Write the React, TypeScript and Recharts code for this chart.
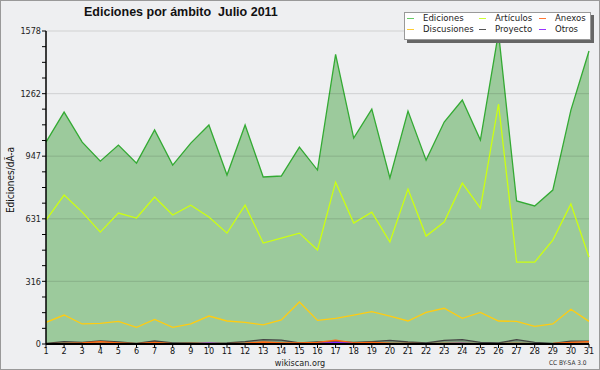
import React from "react";
import { ComposedChart, Area, Line, XAxis, YAxis, ReferenceLine } from "recharts";

const days = [1,2,3,4,5,6,7,8,9,10,11,12,13,14,15,16,17,18,19,20,21,22,23,24,25,26,27,28,29,30,31];
const ediciones = [1018,1169,1018,922,1003,912,1079,902,1013,1104,852,1104,842,847,993,877,1460,1038,1184,837,1174,927,1119,1230,1028,1570,721,696,776,1179,1477];
const articulos = [625,751,665,564,660,635,741,650,700,640,559,700,509,534,559,474,816,610,665,514,781,544,615,811,685,1210,413,413,524,706,438];
const discusiones = [109,146,101,104,114,84,124,84,101,141,116,109,96,121,212,119,129,146,163,141,116,159,180,129,159,116,114,89,101,175,114];
const proyecto = [3,12,8,15,10,3,15,5,5,3,5,12,22,20,5,10,12,8,12,18,10,5,18,22,8,5,22,8,3,15,15];
const anexos = [2,3,5,12,6,2,8,2,3,3,2,4,10,6,5,8,20,6,8,4,3,2,3,3,2,2,3,2,3,8,12];
const otros = [1,1,1,2,1,1,2,1,1,4,1,1,1,1,1,2,8,2,1,1,1,1,2,3,1,1,1,1,1,2,1];
const majorTicks = [0,316,631,947,1262,1578];
const allTicks = [0,79,158,237,316,395,473,552,631,710,789,868,947,1026,1105,1184,1262,1341,1420,1499,1578];
const legendItems = [
  { name: "Ediciones", color: "#66cc66", x: 407, y: 18 },
  { name: "Artículos", color: "#ccff33", x: 479, y: 18 },
  { name: "Anexos", color: "#ff7733", x: 539, y: 18 },
  { name: "Discusiones", color: "#ffcc33", x: 407, y: 29 },
  { name: "Proyecto", color: "#555555", x: 479, y: 29 },
  { name: "Otros", color: "#9933ff", x: 539, y: 29 },
];

const data = days.map((d, i) => ({
  day: d,
  ediciones: ediciones[i],
  articulos: articulos[i],
  discusiones: discusiones[i],
  proyecto: proyecto[i],
  anexos: anexos[i],
  otros: otros[i],
}));

const tickFont = "'DejaVu Sans Condensed', 'DejaVu Sans', sans-serif";

export default function App() {
  return (
    <div style={{ position: "relative", width: 600, height: 370, background: "#eeeff1", fontFamily: tickFont }}>
      <style>{`body{margin:0}`}</style>
      <div style={{ position: "absolute", left: 0, top: 0 }}>
        <ComposedChart width={600} height={370} data={data} margin={{ top: 31, right: 11, bottom: 0, left: 0 }}>
          <XAxis
            dataKey="day"
            type="number"
            domain={[1, 31]}
            ticks={days}
            interval={0}
            height={26}
            tickSize={4}
            tickLine={{ stroke: "#000" }}
            axisLine={{ stroke: "#000", strokeWidth: 2 }}
            tick={{ fill: "#111", fontSize: 9, fontFamily: tickFont }}
            tickMargin={0}
          />
          <YAxis
            type="number"
            domain={[0, 1578]}
            ticks={allTicks}
            interval={0}
            width={46}
            tickSize={4}
            tickLine={{ stroke: "#000" }}
            axisLine={{ stroke: "#000", strokeWidth: 1.5 }}
            tickFormatter={(v: number) => (majorTicks.includes(v) ? String(v) : "")}
            tick={{ fill: "#222", fontSize: 9, fontFamily: tickFont }}
            tickMargin={1}
          />
          {majorTicks.slice(1).map((t) => (
            <ReferenceLine key={t} y={t} stroke="#000" strokeOpacity={0.13} strokeWidth={1} />
          ))}
          <Area type="linear" dataKey="ediciones" stroke="#33aa33" strokeWidth={1.3} fill="#9cca9c" fillOpacity={1} isAnimationActive={false} dot={false} />
          <Line type="linear" dataKey="articulos" stroke="#ccff11" strokeWidth={1.3} dot={false} isAnimationActive={false} />
          <Line type="linear" dataKey="discusiones" stroke="#ffcc11" strokeWidth={1.3} dot={false} isAnimationActive={false} />
          <Area type="linear" dataKey="proyecto" stroke="#444444" strokeWidth={1.3} fill="#607060" fillOpacity={0.5} dot={false} isAnimationActive={false} />
          <Area type="linear" dataKey="anexos" stroke="#ff6611" strokeWidth={1.3} fill="#ff6611" fillOpacity={0.4} dot={false} isAnimationActive={false} />
          <Area type="linear" dataKey="otros" stroke="#8822ff" strokeWidth={1.3} fill="#8822ff" fillOpacity={0.4} dot={false} isAnimationActive={false} />
        </ComposedChart>
      </div>
      <div style={{ position: "absolute", left: 84, top: 5, fontFamily: "'Liberation Sans', Arial, sans-serif", fontWeight: "bold", fontSize: 12.5, whiteSpace: "pre", color: "#111" }}>
        {"Ediciones por ámbito  Julio 2011"}
      </div>
      <div style={{ position: "absolute", left: 10, top: 180, transform: "translate(-50%, -50%) rotate(-90deg)", fontSize: 10, whiteSpace: "nowrap", color: "#111" }}>
        Ediciones/dÃ-a
      </div>
      <div style={{ position: "absolute", left: 300, top: 358, transform: "translateX(-50%)", fontSize: 9, lineHeight: "10px", color: "#222" }}>
        wikiscan.org
      </div>
      <div style={{ position: "absolute", left: 549, top: 360, fontSize: 6.5, lineHeight: "7px", color: "#333", whiteSpace: "nowrap" }}>
        CC BY-SA 3.0
      </div>
      <div style={{ position: "absolute", left: 404, top: 12, width: 187, height: 28, background: "#fff", border: "1px solid #999", boxSizing: "border-box", boxShadow: "3px 3px 0 #666" }} />
      {legendItems.map((it) => (
        <React.Fragment key={it.name}>
          <div style={{ position: "absolute", left: it.x, top: it.y, width: 7, height: 1, background: it.color }} />
          <div style={{ position: "absolute", left: it.x + 16, top: it.y - 5, fontSize: 9.5, lineHeight: "9px", color: "#222", whiteSpace: "nowrap" }}>
            {it.name}
          </div>
        </React.Fragment>
      ))}
      <div style={{ position: "absolute", left: 0, top: 0, width: 600, height: 370, border: "1px solid #999", boxSizing: "border-box", pointerEvents: "none" }} />
    </div>
  );
}
